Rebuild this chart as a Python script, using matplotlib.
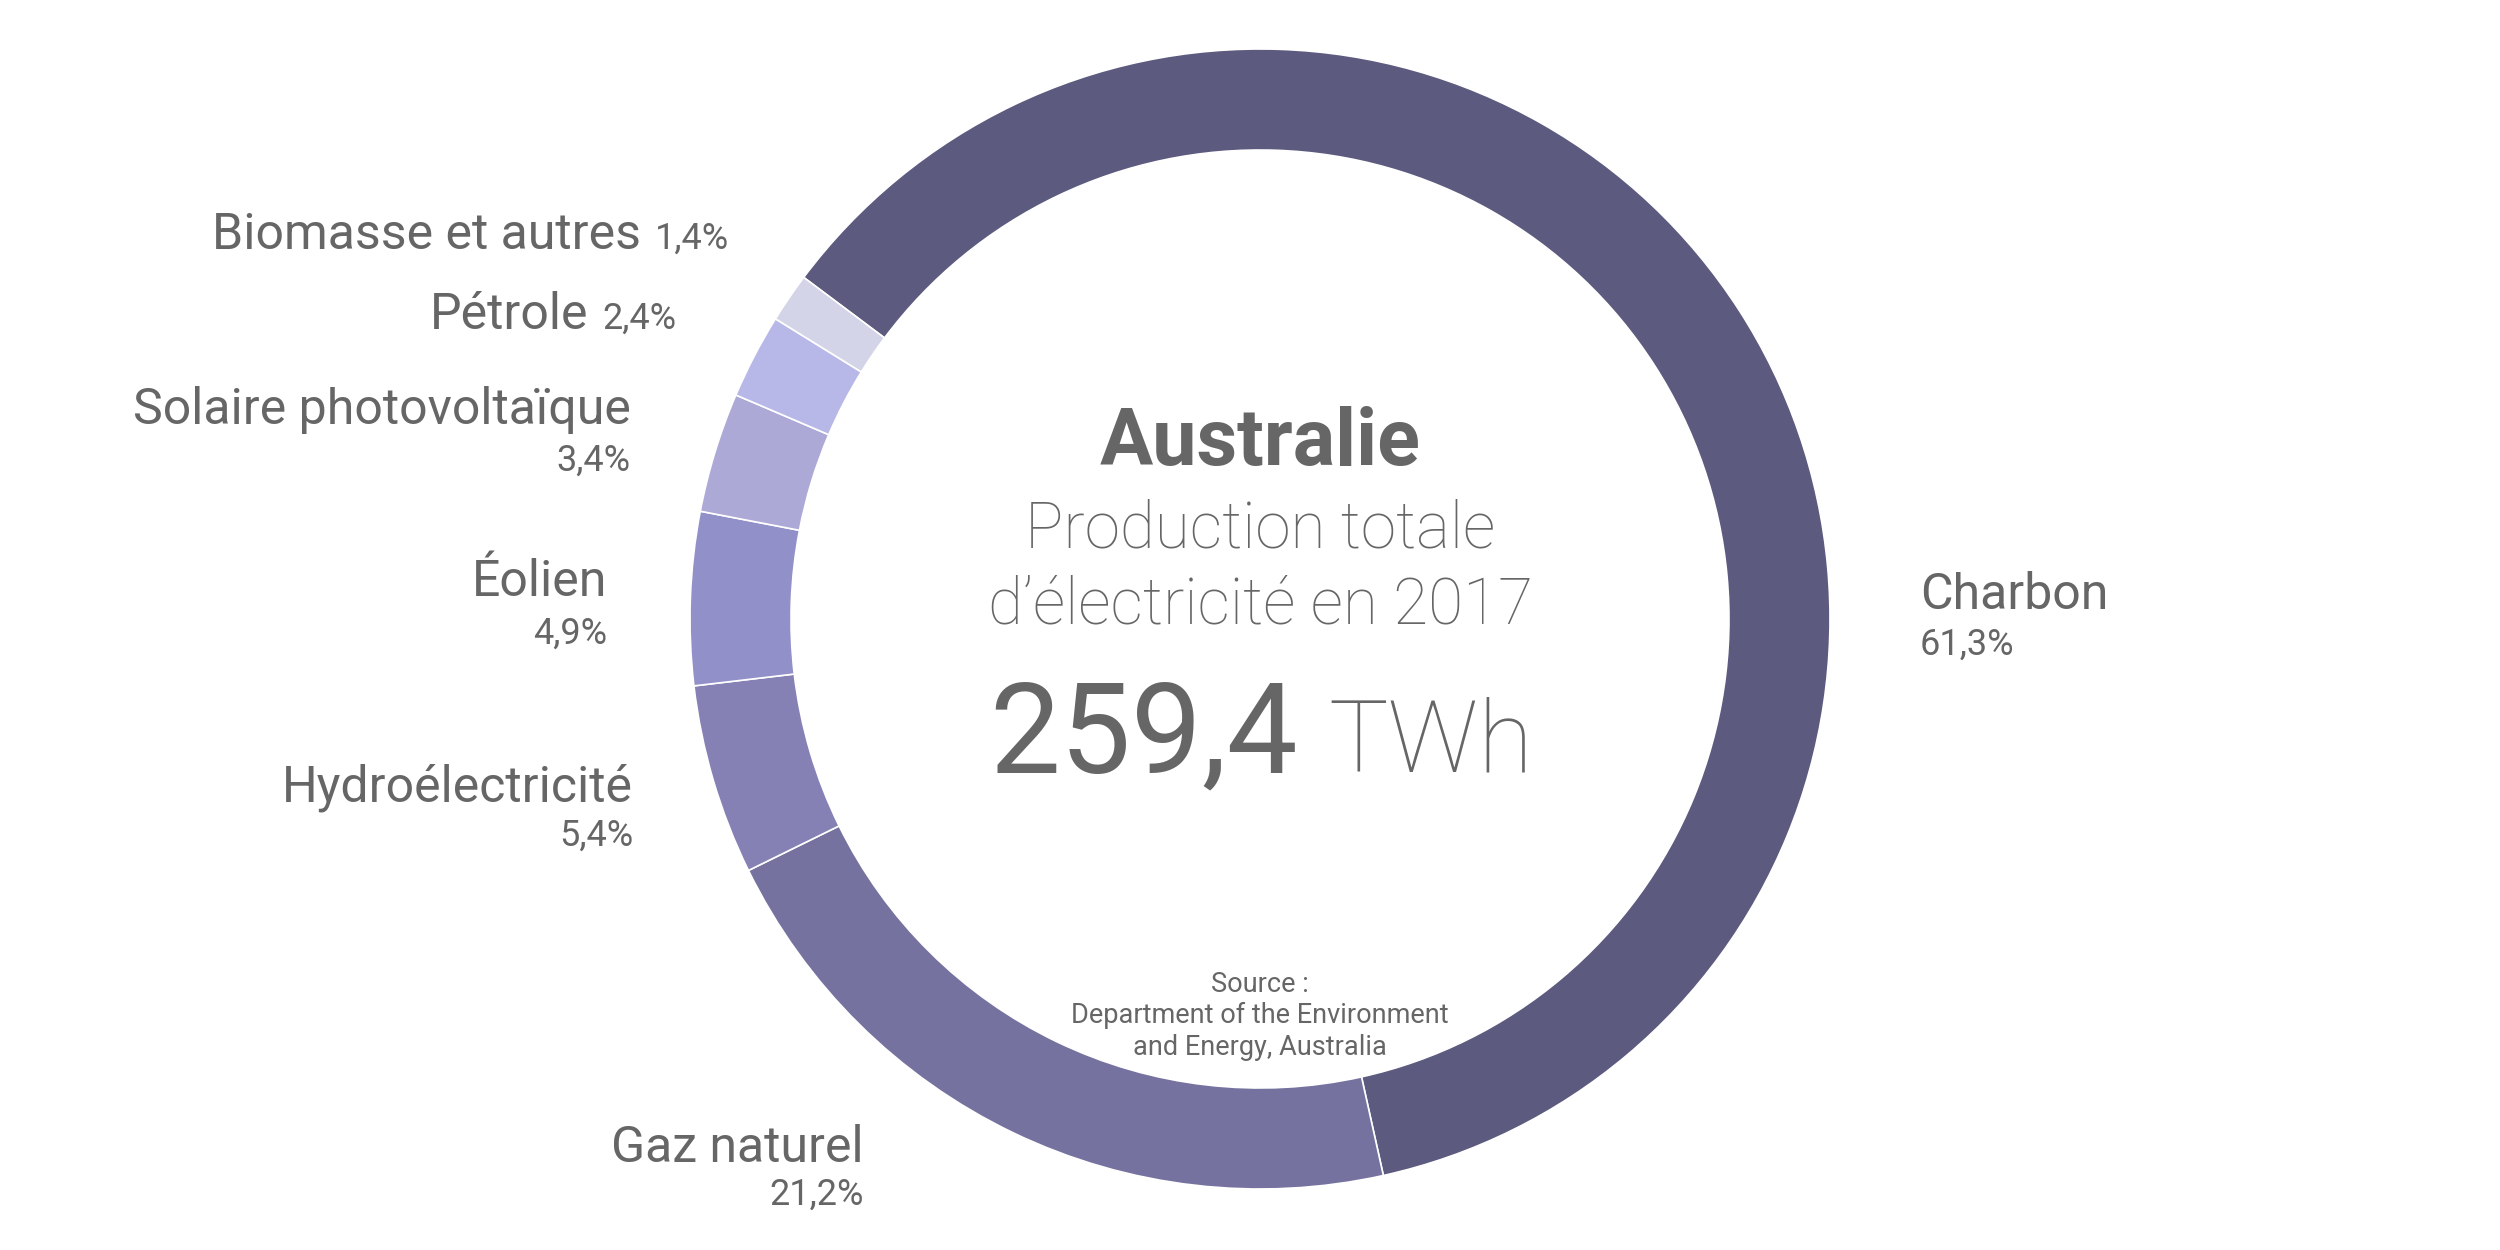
import matplotlib.pyplot as plt

# donnees
sources = ["Charbon", "Gaz naturel", "Hydroélectricité", "Éolien",
           "Solaire photovoltaïque", "Pétrole", "Biomasse et autres"]
parts = [61.3, 21.2, 5.4, 4.9, 3.4, 2.4, 1.4]
pct_labels = ["61,3%", "21,2%", "5,4%", "4,9%", "3,4%", "2,4%", "1,4%"]
couleurs = ["#5c5a7e", "#75729f", "#8681b5", "#9290c8",
            "#ada9d6", "#b8b8e8", "#d4d4e8"]
pays = "Australie"
total = "259,4"
unite = "TWh"

GRIS = "#666666"
plt.rcParams['font.family'] = ['Roboto', 'DejaVu Sans']


def y(v):
    # coordonnees image -> axes
    return 1250 - v


fig = plt.figure(figsize=(25, 12.5), dpi=100)
ax = fig.add_axes([0, 0, 1, 1])

ax.pie(parts, colors=couleurs, startangle=-77 + 360 * parts[0] / 100 - 0.5,
       counterclock=False, radius=570, center=(1260, y(619)),
       wedgeprops=dict(width=101, edgecolor="white", linewidth=1.2))
ax.set_xlim(0, 2500)
ax.set_ylim(0, 1250)
ax.set_aspect('equal')
ax.axis('off')

# texte central
ax.text(1260, y(465), pays, ha='center', va='baseline', fontsize=57,
        fontweight='bold', color=GRIS)
ax.text(1260, y(547), "Production totale", ha='center', va='baseline',
        fontsize=46, fontweight='light', color=GRIS)
ax.text(1260, y(623), "d\u2019électricité en 2017", ha='center', va='baseline',
        fontsize=46, fontweight='light', color=GRIS)
ax.text(1298, y(772), total, ha='right', va='baseline', fontsize=91,
        color=GRIS)
ax.text(1328, y(772), unite, ha='left', va='baseline', fontsize=72,
        fontweight='light', color=GRIS)

ax.text(1260, y(992), "Source :", ha='center', va='baseline', fontsize=19.5, color=GRIS)
ax.text(1260, y(1023), "Department of the Environment", ha='center', va='baseline',
        fontsize=19.5, color=GRIS)
ax.text(1260, y(1055), "and Energy, Australia", ha='center', va='baseline',
        fontsize=19.5, color=GRIS)

# etiquettes
ax.text(1920, y(609), sources[0], ha='left', va='baseline', fontsize=36, color=GRIS)
ax.text(1920, y(655), pct_labels[0], ha='left', va='baseline', fontsize=26, color=GRIS)

# (x droite, y nom, y pourcentage) ; pourcentage sous le nom
pos = {
    "Gaz naturel": (864, 1162, 1205),
    "Hydroélectricité": (633, 801, 846),
    "Éolien": (607, 596, 644),
    "Solaire photovoltaïque": (631, 424, 471),
}
for nom, pct in zip(sources, pct_labels):
    if nom in pos:
        xr, yn, yp = pos[nom]
        ax.text(xr, y(yn), nom, ha='right', va='baseline', fontsize=36, color=GRIS)
        ax.text(xr, y(yp), pct, ha='right', va='baseline', fontsize=26, color=GRIS)

# (x droite nom, x droite pourcentage, y) ; pourcentage sur la meme ligne
inline = {"Pétrole": (588, 676, 329), "Biomasse et autres": (641, 729, 249)}
for nom, pct in zip(sources, pct_labels):
    if nom in inline:
        xn, xp, yn = inline[nom]
        ax.text(xn, y(yn), nom, ha='right', va='baseline', fontsize=36, color=GRIS)
        ax.text(xp, y(yn), pct, ha='right', va='baseline', fontsize=26, color=GRIS)

fig.savefig("out.png", dpi=100, facecolor="white")
